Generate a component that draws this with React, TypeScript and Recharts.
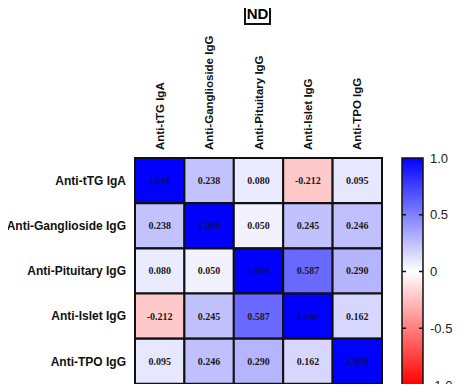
import { BarChart, Bar, XAxis, YAxis, Cell } from "recharts";

const labels = ["Anti-tTG IgA", "Anti-Ganglioside IgG", "Anti-Pituitary IgG", "Anti-Islet IgG", "Anti-TPO IgG"];
const tTG = [1.0, 0.238, 0.08, -0.212, 0.095];
const ganglioside = [0.238, 1.0, 0.05, 0.245, 0.246];
const pituitary = [0.08, 0.05, 1.0, 0.587, 0.29];
const islet = [-0.212, 0.245, 0.587, 1.0, 0.162];
const tpo = [0.095, 0.246, 0.29, 0.162, 1.0];
const matrix = [tTG, ganglioside, pituitary, islet, tpo];
const scaleTicks = [-1, -0.5, 0, 0.5, 1];
const scaleTickLabels = ["-1.0", "-0.5", "0", "0.5", "1.0"];

const colKeys = labels.map((_, j) => `c${j}`);
// every cell is one unit wide, stacked left to right
const rows = labels.map((name) => {
  const r: any = { name };
  colKeys.forEach((k) => (r[k] = 1));
  return r;
});

function cellColor(v: number) {
  const t = Math.min(1, Math.abs(v));
  const m = Math.round(255 * (1 - t));
  return v >= 0 ? `rgb(${m},${m},255)` : `rgb(255,${m},${m})`;
}

const sans = "'Liberation Sans', Arial, sans-serif";
const serif = "'Liberation Serif', 'Times New Roman', serif";

function ColTick({ x, y, payload }: any) {
  const i = Math.floor(payload.value);
  return (
    <text transform={`translate(${x + 4},${y}) rotate(-90)`} textAnchor="start" fontFamily={sans} fontWeight="bold" fontSize={11.5} fill="#111">
      {labels[i]}
    </text>
  );
}

function RowTick({ x, y, payload }: any) {
  return (
    <text x={x} y={y} dy="0.35em" textAnchor="end" fontFamily={sans} fontWeight="bold" fontSize={12} fill="#111">
      {payload.value}
    </text>
  );
}

function ScaleTick({ x, y, payload }: any) {
  const i = scaleTicks.indexOf(payload.value);
  const inner = payload.value !== 1 && payload.value !== -1;
  return (
    <g>
      {inner && <line x1={x - 4} x2={x} y1={y} y2={y} stroke="#111" strokeWidth={1.5} />}
      {inner && <line x1={x - 21} x2={x - 17} y1={y} y2={y} stroke="#111" strokeWidth={1.5} />}
      <text x={x + 7} y={y} dy="0.35em" fontFamily={sans} fontSize={13} fill="#222">
        {scaleTickLabels[i]}
      </text>
    </g>
  );
}

const scaleData = [{ name: "scale", range: [-1, 1] }];

export default function App() {
  return (
    <div style={{ position: "relative", width: 466, height: 392, margin: -8, background: "#fff" }}>
      <div
        style={{
          position: "absolute",
          left: 244,
          top: 3,
          width: 27,
          height: 22,
          boxSizing: "border-box",
          border: "2px solid #111",
          fontFamily: sans,
          fontWeight: "bold",
          fontSize: 15,
          lineHeight: "18px",
          textAlign: "center",
        }}
      >
        ND
      </div>
      <div style={{ position: "absolute", left: 0, top: 0 }}>
        <BarChart width={390} height={392} data={rows} layout="vertical" barCategoryGap={0} barGap={0} margin={{ top: 8, right: 8, bottom: 8, left: 0 }}>
          <XAxis
            type="number"
            orientation="top"
            domain={[0, 5]}
            ticks={[0.5, 1.5, 2.5, 3.5, 4.5]}
            height={150}
            axisLine={false}
            tickLine={false}
            tickSize={0}
            tickMargin={8}
            tick={<ColTick />}
            interval={0}
          />
          <YAxis type="category" dataKey="name" width={135} axisLine={false} tickLine={false} tickSize={0} tickMargin={9} tick={<RowTick />} interval={0} />
          {colKeys.map((k, j) => (
            <Bar
              key={k}
              dataKey={k}
              stackId="m"
              stroke="#111"
              strokeWidth={2}
              isAnimationActive={false}
              label={(p: any) => {
                const v = matrix[p.index][j];
                return (
                  <text
                    x={p.x + p.width / 2}
                    y={p.y + p.height / 2}
                    dy="0.35em"
                    textAnchor="middle"
                    fontFamily={serif}
                    fontWeight="bold"
                    fontSize={10}
                    fill={v >= 0.99 ? "#0a0a70" : "#1a1a1a"}
                  >
                    {v.toFixed(3)}
                  </text>
                );
              }}
            >
              {rows.map((_, i) => (
                <Cell key={i} fill={cellColor(matrix[i][j])} />
              ))}
            </Bar>
          ))}
        </BarChart>
      </div>
      <div style={{ position: "absolute", left: 396, top: 150 }}>
        <BarChart width={70} height={242} data={scaleData} barCategoryGap={0} margin={{ top: 8, right: 0, bottom: 7, left: 6 }}>
          <defs>
            <linearGradient id="corrGrad" x1="0" y1="0" x2="0" y2="1">
              <stop offset="0%" stopColor="#0000ff" />
              <stop offset="50%" stopColor="#ffffff" />
              <stop offset="100%" stopColor="#ff0000" />
            </linearGradient>
          </defs>
          <XAxis dataKey="name" hide />
          <YAxis
            orientation="right"
            domain={[-1, 1]}
            ticks={scaleTicks}
            width={43}
            axisLine={false}
            tickLine={false}
            tickSize={0}
            tickMargin={0}
            tick={<ScaleTick />}
            interval={0}
          />
          <Bar dataKey="range" fill="url(#corrGrad)" stroke="#111" strokeWidth={1.5} isAnimationActive={false} />
        </BarChart>
      </div>
    </div>
  );
}
